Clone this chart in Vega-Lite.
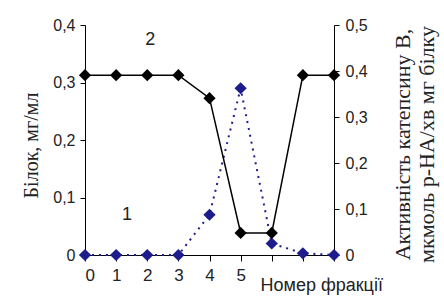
{
  "$schema": "https://vega.github.io/schema/vega-lite/v6.json",
  "width": 249,
  "height": 230,
  "autosize": {"type": "none"},
  "padding": {"left": 85, "top": 25, "right": 110, "bottom": 41},
  "background": "white",
  "config": {
    "view": {"stroke": null},
    "axis": {
      "grid": false,
      "domainColor": "#000",
      "tickColor": "#000",
      "labelColor": "#222",
      "labelFont": "Liberation Sans",
      "labelFontSize": 16,
      "titleFont": "Liberation Serif",
      "titleFontWeight": "normal",
      "titleColor": "#222",
      "titleFontSize": 19
    }
  },
  "data": {
    "values": [
      {"fr": 0, "protein": 0.0, "activity": 0.391},
      {"fr": 1, "protein": 0.0, "activity": 0.391},
      {"fr": 2, "protein": 0.0, "activity": 0.391},
      {"fr": 3, "protein": 0.0, "activity": 0.391},
      {"fr": 4, "protein": 0.07, "activity": 0.341},
      {"fr": 5, "protein": 0.29, "activity": 0.048},
      {"fr": 6, "protein": 0.02, "activity": 0.048},
      {"fr": 7, "protein": 0.003, "activity": 0.391},
      {"fr": 8, "protein": 0.0, "activity": 0.391}
    ]
  },
  "encoding": {
    "x": {
      "field": "fr",
      "type": "quantitative",
      "scale": {"domain": [0, 8], "nice": false, "zero": false},
      "axis": {
        "values": [0, 1, 2, 3, 4, 5, 6, 7, 8],
        "labelExpr": "datum.value <= 5 ? datum.label : ''",
        "labelFontSize": 17,
        "tickSize": 6,
        "labelPadding": 6,
        "title": "Номер фракції",
        "titleFont": "Liberation Sans",
        "titleFontSize": 18,
        "titleAlign": "left",
        "titleBaseline": "middle",
        "titleAnchor": "start",
        "titleX": 175,
        "titleY": 30
      }
    }
  },
  "layer": [
    {
      "encoding": {
        "y": {
          "field": "protein",
          "type": "quantitative",
          "scale": {"domain": [0, 0.4], "nice": false},
          "axis": {
            "orient": "left",
            "values": [0, 0.1, 0.2, 0.3, 0.4],
            "labelExpr": "datum.value == 0 ? '0' : replace(format(datum.value, '.1f'), '.', ',')",
            "tickSize": 5,
            "labelPadding": 5,
            "title": "Білок, мг/мл",
            "titleFontSize": 20,
            "titleAngle": 270,
            "titleAlign": "center",
            "titleBaseline": "middle",
            "titleX": -54,
            "titleY": 120
          }
        }
      },
      "layer": [
        {
          "mark": {"type": "line", "color": "#1c1c8c", "strokeWidth": 2, "strokeDash": [2, 5]},
          "encoding": {}
        },
        {
          "mark": {"type": "point", "shape": "diamond", "filled": true, "color": "#1c1c8c", "size": 150, "opacity": 1},
          "encoding": {}
        },
        {
          "data": {"values": [{"t": "2", "tx": 2.1, "ty": 0.374}, {"t": "1", "tx": 1.35, "ty": 0.07}]},
          "mark": {"type": "text", "font": "Liberation Sans", "fontSize": 18, "color": "#222", "align": "center", "baseline": "middle"},
          "encoding": {
            "x": {"field": "tx", "type": "quantitative"},
            "y": {"field": "ty", "type": "quantitative"},
            "text": {"field": "t"}
          }
        }
      ]
    },
    {
      "encoding": {
        "y": {
          "field": "activity",
          "type": "quantitative",
          "scale": {"domain": [0, 0.5], "nice": false},
          "axis": {
            "orient": "right",
            "values": [0, 0.1, 0.2, 0.3, 0.4, 0.5],
            "labelExpr": "datum.value == 0 ? '0' : replace(format(datum.value, '.1f'), '.', ',')",
            "tickSize": 5,
            "labelPadding": 6,
            "title": ["Активність катепсину В,", "мкмоль р-НА/хв мг білку"],
            "titleFontSize": 22,
            "titleAngle": 270,
            "titleAlign": "center",
            "titleBaseline": "middle",
            "titleLineHeight": 24,
            "titleX": 68,
            "titleY": 119
          }
        }
      },
      "layer": [
        {
          "mark": {"type": "line", "color": "#000", "strokeWidth": 1.5},
          "encoding": {}
        },
        {
          "mark": {"type": "point", "shape": "diamond", "filled": true, "color": "#000", "size": 150, "opacity": 1},
          "encoding": {}
        }
      ]
    }
  ],
  "resolve": {"scale": {"y": "independent"}}
}
